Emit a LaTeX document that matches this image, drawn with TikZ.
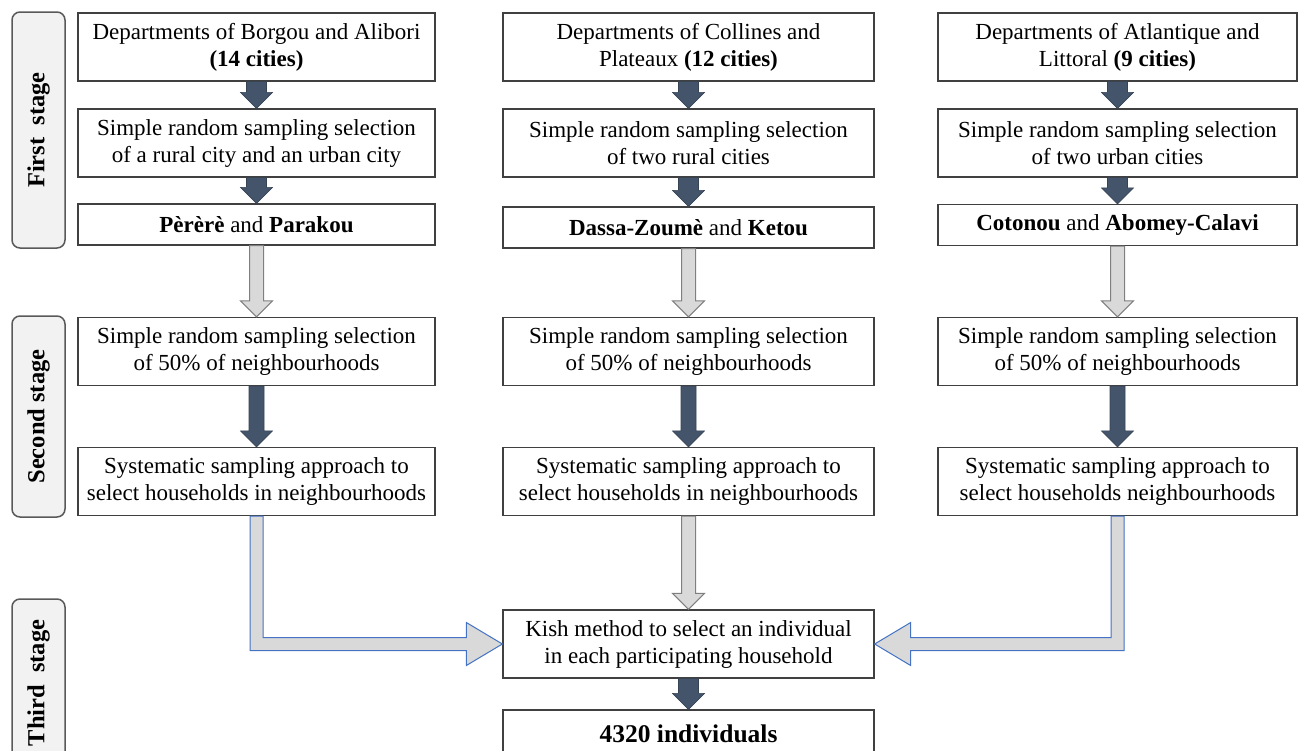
\documentclass[tikz,border=0pt]{standalone}
\usepackage{fontspec}
\setmainfont{Liberation Serif}
\usepackage{tikz}
\usetikzlibrary{calc,positioning}

\definecolor{slate}{HTML}{44546A}
\definecolor{lightgrey}{HTML}{D9D9D9}
\definecolor{edgegrey}{HTML}{7F7F7F}
\definecolor{edgeblue}{HTML}{4472C4}
\definecolor{stagegrey}{HTML}{F2F2F2}

% block arrow pointing down: style, half shaft width, upper node, lower node
\newcommand{\blockdown}[4]{%
  \path[#1] let \p1=(#3.south), \p2=(#4.north) in
    ({\x1-#2},\y1) -- ({\x1-#2},\y2+16pt) -- (\x1-16pt,\y2+16pt) -- (\x1,\y2)
    -- (\x1+16pt,\y2+16pt) -- ({\x1+#2},\y2+16pt) -- ({\x1+#2},\y1) -- cycle;}

% elbow block arrow into the side of a node: upper node, side anchor, direction (1 right, -1 left)
\newcommand{\blockelbow}[3]{%
  \path[elbow] let \p1=(#1.south), \p2=(#2) in
    ({\x1-6.5pt*#3},\y1) -- ({\x1-6.5pt*#3},\y2-6.5pt) -- ({\x2-36pt*#3},\y2-6.5pt)
    -- ({\x2-36pt*#3},\y2-21.5pt) -- (\x2,\y2) -- ({\x2-36pt*#3},\y2+21.5pt)
    -- ({\x2-36pt*#3},\y2+6.5pt) -- ({\x1+6.5pt*#3},\y2+6.5pt) -- ({\x1+6.5pt*#3},\y1) -- cycle;}

\begin{document}
\begin{tikzpicture}[x=1pt,y=-1pt]
 \useasboundingbox (0,0) rectangle (1309,750);
 \clip (0,0) rectangle (1309,750);

\tikzstyle{box}=[draw=black!75,line width=1.3pt,fill=white,align=center,inner sep=0pt,font=\fontsize{23}{27}\selectfont]
\tikzstyle{tall}=[minimum height=68pt]
\tikzstyle{short}=[minimum height=41pt]
\tikzstyle{stage}=[draw=black!65,line width=1.5pt,fill=stagegrey,rounded corners=8pt,rotate=90,minimum height=53pt,inner sep=0pt,font=\fontsize{24.5}{27}\selectfont\bfseries]
\tikzstyle{darkarrow}=[fill=slate,draw=slate!80!black,line width=0.6pt]
\tikzstyle{greyarrow}=[fill=lightgrey,draw=edgegrey,line width=1pt]
\tikzstyle{elbow}=[fill=lightgrey,draw=edgeblue,line width=1pt]

   %stage labels
   \node (S1) [stage,minimum width=236pt] at (38.5,130) {First\ \ stage};
   \node (S2) [stage,minimum width=201pt] at (38.5,416.5) {Second stage};
   \node (S3) [stage,minimum width=168pt] at (38.5,683) {Third\ \ stage};

   %first stage
   \node (L1) [box,tall,minimum width=357pt] at (256.5,47) {Departments of Borgou and Alibori\\\textbf{(14 cities)}};
   \node (M1) [box,tall,minimum width=371pt] at (688.5,47) {Departments of Collines and\\Plateaux \textbf{(12 cities)}};
   \node (R1) [box,tall,minimum width=359pt] at (1117.5,47) {Departments of Atlantique and\\Littoral \textbf{(9 cities)}};

   \node (L2) [box,tall,minimum width=357pt] at (256.5,143) {Simple random sampling selection\\of a rural city and an urban city};
   \node (M2) [box,tall,minimum width=371pt] at (688.5,143) {Simple random sampling selection\\of two rural cities};
   \node (R2) [box,tall,minimum width=359pt] at (1117.5,143) {Simple random sampling selection\\of two urban cities};

   \node (L3) [box,short,minimum width=357pt] at (256.5,224.5) {\textbf{Pèrèrè} and \textbf{Parakou}};
   \node (M3) [box,short,minimum width=371pt] at (688.5,227.5) {\textbf{Dassa-Zoumè} and \textbf{Ketou}};
   \node (R3) [box,short,minimum width=359pt] at (1117.5,225) {\textbf{Cotonou} and \textbf{Abomey-Calavi}};

   %second stage
   \node (L4) [box,tall,minimum width=357pt] at (256.5,351.5) {Simple random sampling selection\\of 50\% of neighbourhoods};
   \node (M4) [box,tall,minimum width=371pt] at (688.5,351.5) {Simple random sampling selection\\of 50\% of neighbourhoods};
   \node (R4) [box,tall,minimum width=359pt] at (1117.5,351.5) {Simple random sampling selection\\of 50\% of neighbourhoods};

   \node (L5) [box,tall,minimum width=357pt] at (256.5,481.5) {Systematic sampling approach to\\select households in neighbourhoods};
   \node (M5) [box,tall,minimum width=371pt] at (688.5,481.5) {Systematic sampling approach to\\select households in neighbourhoods};
   \node (R5) [box,tall,minimum width=359pt] at (1117.5,481.5) {Systematic sampling approach to\\select households neighbourhoods};

   %third stage
   \node (K) [box,tall,minimum width=371pt] at (688.5,644) {Kish method to select an individual\\in each participating household};
   \node (N) [box,minimum width=371pt,minimum height=48pt,font=\fontsize{25.5}{27}\selectfont] at (688.5,734) {\textbf{4320 individuals}};

   %arrows
   \foreach \c in {L,M,R}{
     \blockdown{darkarrow}{10pt}{\c1}{\c2}
     \blockdown{darkarrow}{10pt}{\c2}{\c3}
     \blockdown{greyarrow}{7pt}{\c3}{\c4}
     \blockdown{darkarrow}{7.5pt}{\c4}{\c5}
   }
   \blockdown{greyarrow}{7pt}{M5}{K}
   \blockdown{darkarrow}{10pt}{K}{N}

   \blockelbow{L5}{K.west}{1}
   \blockelbow{R5}{K.east}{-1}

\end{tikzpicture}
\end{document}
